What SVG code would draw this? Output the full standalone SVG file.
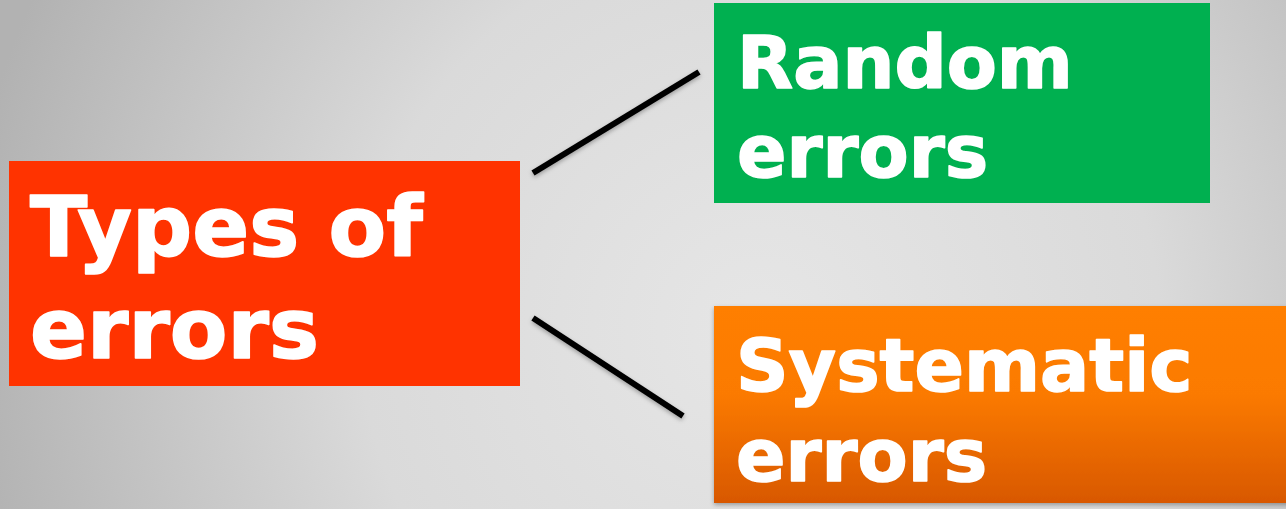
<svg xmlns="http://www.w3.org/2000/svg" width="1286" height="509" viewBox="0 0 1286 509">
  <defs>
    <radialGradient id="bg" cx="760" cy="330" r="800" gradientUnits="userSpaceOnUse">
      <stop offset="0" stop-color="#e6e6e6"/>
      <stop offset="0.5" stop-color="#dadada"/>
      <stop offset="1" stop-color="#b2b2b2"/>
    </radialGradient>
    <linearGradient id="orangeFill" x1="0" y1="0" x2="0" y2="1">
      <stop offset="0" stop-color="#ff7f05"/>
      <stop offset="0.45" stop-color="#fb7a02"/>
      <stop offset="1" stop-color="#d85800"/>
    </linearGradient>
    <filter id="soft" x="-10%" y="-10%" width="120%" height="130%">
      <feDropShadow dx="0" dy="2" stdDeviation="2" flood-color="#000" flood-opacity="0.3"/>
    </filter>
  </defs>
  <style>
    .label { font-family: "DejaVu Sans", Verdana, sans-serif; font-weight: bold; fill: #ffffff; stroke: #ffffff; stroke-width: 1.6; stroke-linejoin: round; }
    .big { font-size: 84px; }
    .mid { font-size: 73px; }
    .link { stroke: #000; stroke-width: 6; stroke-linecap: butt; fill: none; }
  </style>

  <rect x="0" y="0" width="1286" height="509" fill="url(#bg)"/>

  <g id="connectors" filter="url(#soft)">
    <line class="link" x1="533" y1="173" x2="699" y2="72"/>
    <line class="link" x1="533" y1="318" x2="683" y2="416"/>
  </g>

  <g id="types-of-errors">
    <rect x="9" y="161" width="511" height="225" fill="#ff3300"/>
    <text class="label big" x="30" y="256">Types of</text>
    <text class="label big" x="30" y="358">errors</text>
  </g>

  <g id="random-errors">
    <rect x="714" y="3" width="496" height="200" fill="#00b050"/>
    <text class="label mid" x="737" y="88">Random</text>
    <text class="label mid" x="737" y="177">errors</text>
  </g>

  <g id="systematic-errors">
    <rect x="714" y="306" width="580" height="197" fill="url(#orangeFill)" filter="url(#soft)"/>
    <text class="label mid" x="736" y="391">Systematic</text>
    <text class="label mid" x="736" y="481">errors</text>
  </g>
</svg>
